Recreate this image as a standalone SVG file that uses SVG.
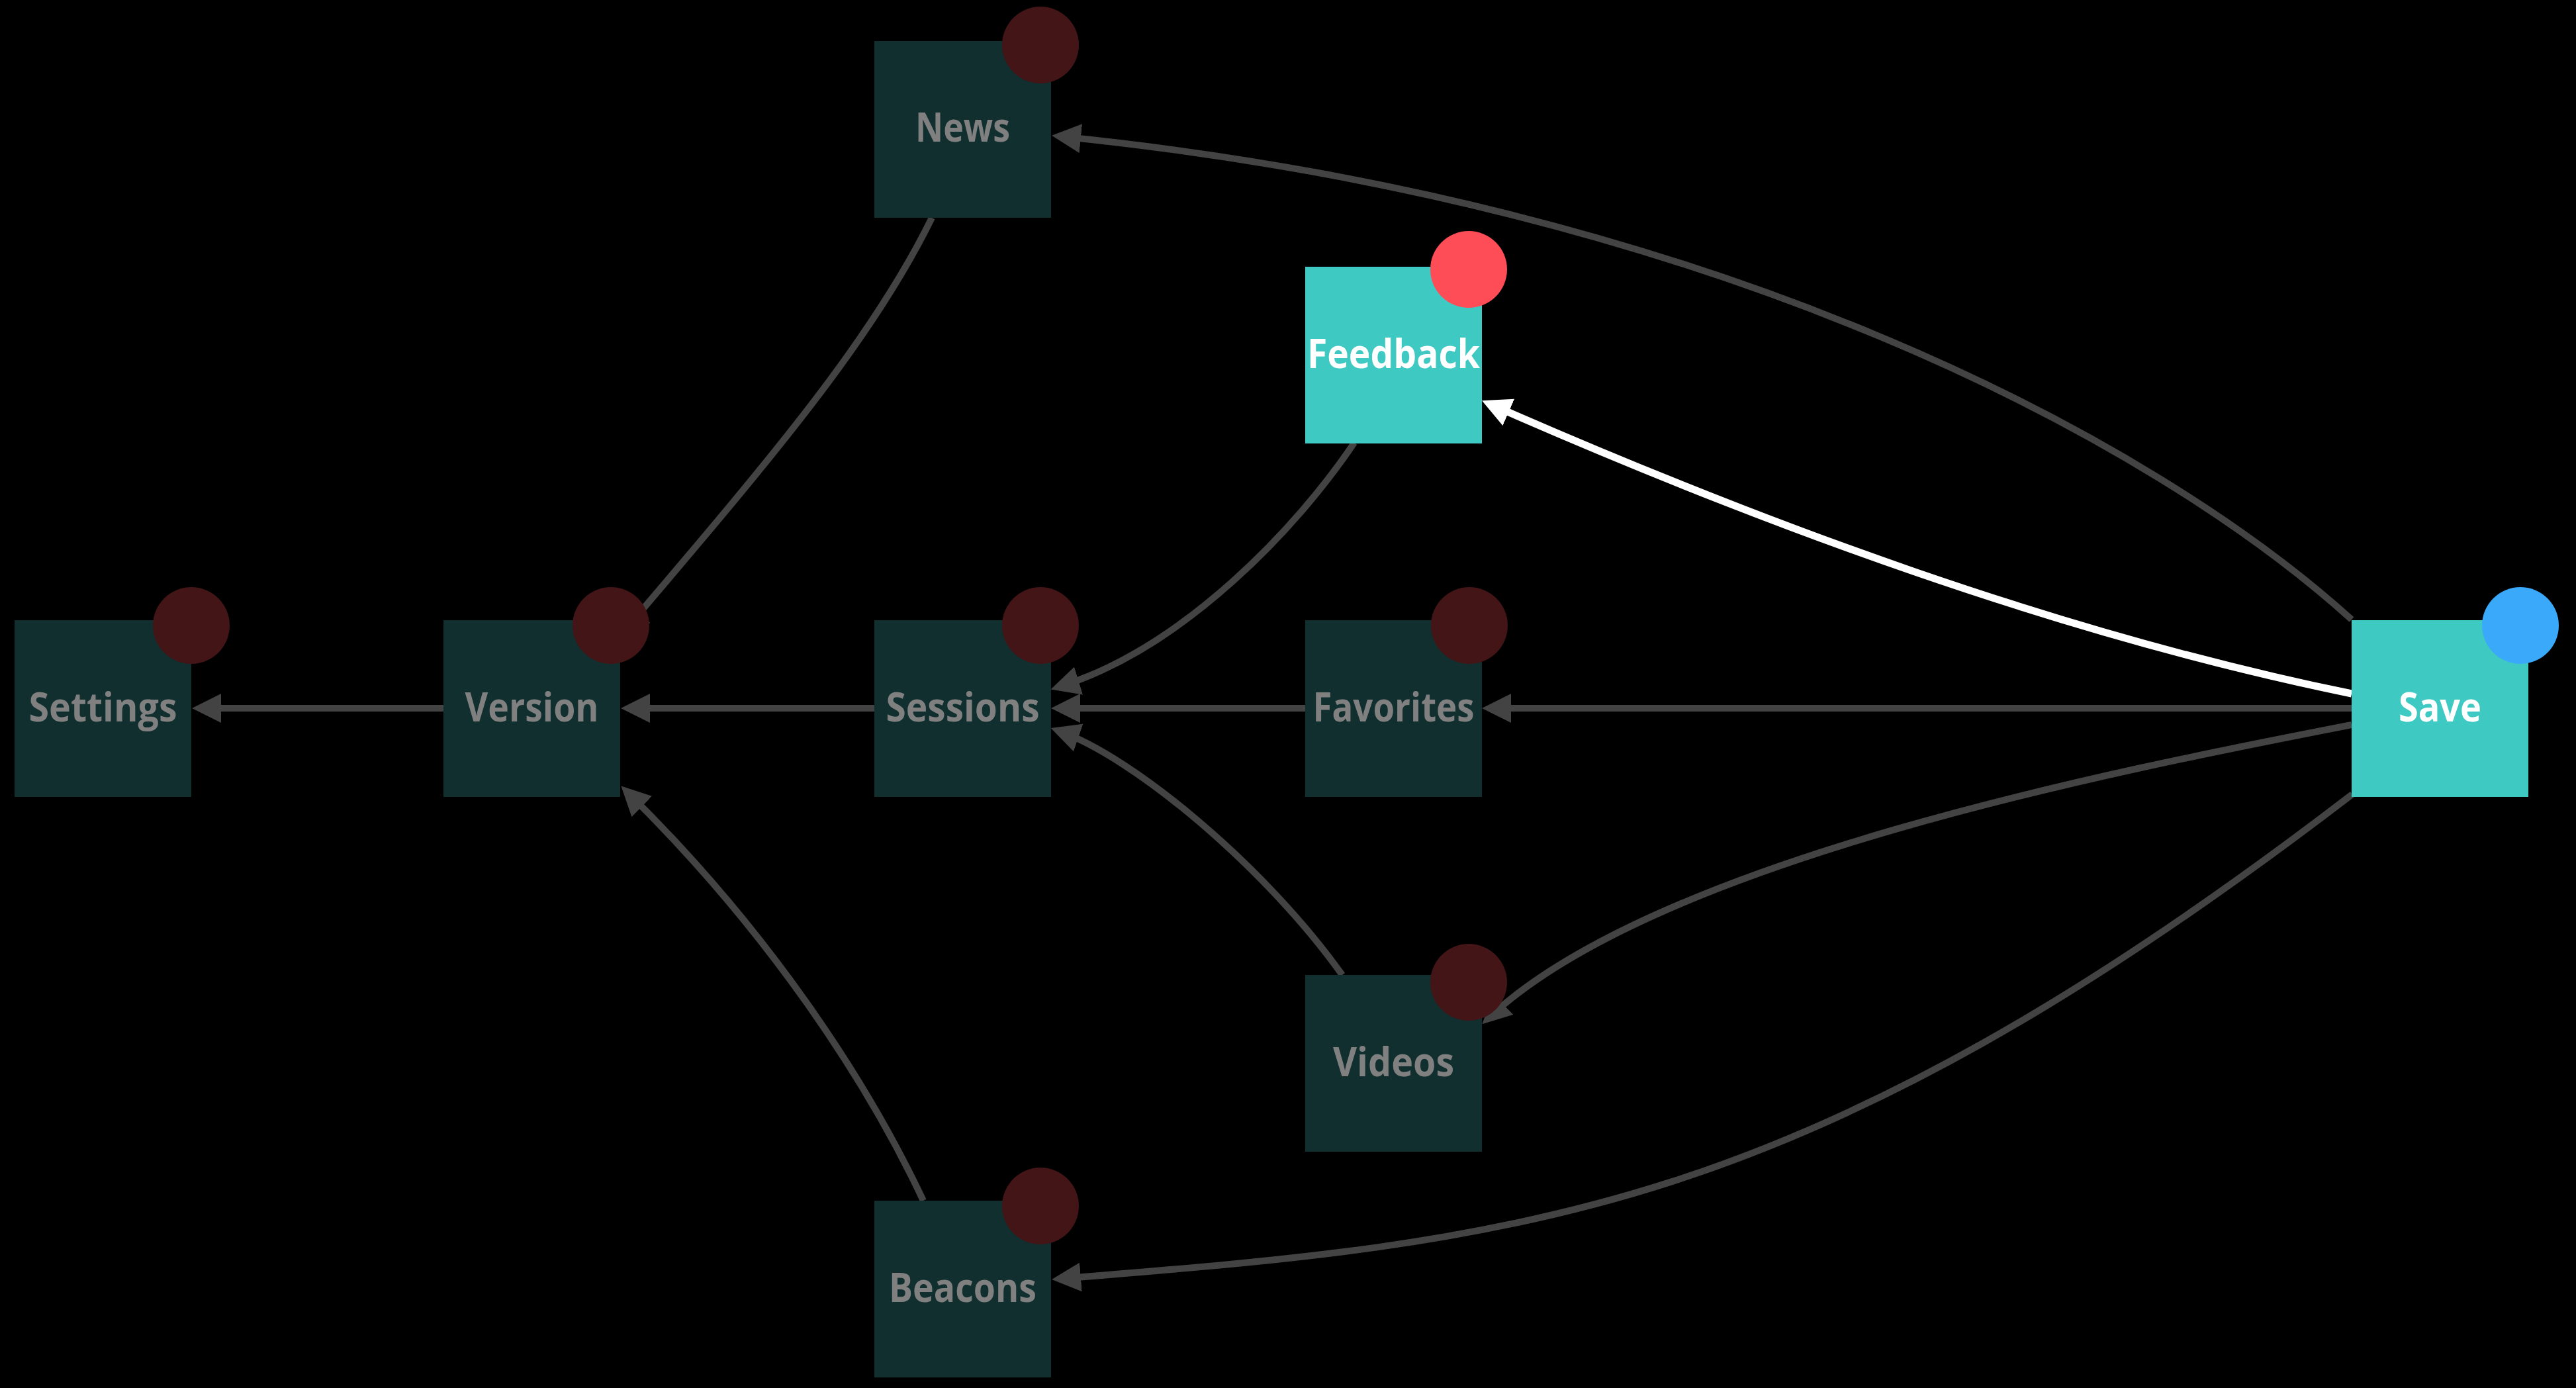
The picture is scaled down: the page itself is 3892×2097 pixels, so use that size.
<svg xmlns="http://www.w3.org/2000/svg" width="3892" height="2097" viewBox="0 0 3892 2097">
<style>
.bg{fill:#000}
.edge{fill:none;stroke:#434343;stroke-width:10}
.edge.active{stroke:#ffffff;stroke-width:11}
.box{fill:#122f2f}
.box.active{fill:#3fc9c3}
.dot{fill:#431517}
.lbl{font-family:"Open Sans","Noto Sans","DejaVu Sans",sans-serif;font-weight:700;font-size:61px;fill:#808080;text-anchor:middle}
.lbl.active{fill:#ffffff}
</style>
<defs>
<marker id="ah" markerUnits="userSpaceOnUse" viewBox="0 0 44 44" markerWidth="44" markerHeight="44" refX="32" refY="22" orient="auto">
<path d="M0,0 L44,22 L0,44 z" fill="#434343"/>
</marker>
<marker id="ahw" markerUnits="userSpaceOnUse" viewBox="0 0 44 44" markerWidth="44" markerHeight="44" refX="32" refY="22" orient="auto">
<path d="M0,0 L44,22 L0,44 z" fill="#ffffff"/>
</marker>
</defs>
<rect class="bg" x="0" y="0" width="3892" height="2097"/>
<g id="connectors">
<path class="edge" marker-end="url(#ah)" d="M3553,936 C3257,668 2596,306 1601,206"/>
<path class="edge active" marker-end="url(#ahw)" d="M3553,1048 C3112,958 2662,791 2250,610"/>
<path class="edge" marker-end="url(#ah)" d="M3553,1070 L2251,1070"/>
<path class="edge" marker-end="url(#ah)" d="M3553,1095 C3209,1162 2502,1299 2248,1539"/>
<path class="edge" marker-end="url(#ah)" d="M3554,1200 C2718,1841 2298,1876 1601,1932"/>
<path class="edge" marker-end="url(#ah)" d="M2046,669 C1963,793 1790,979 1599,1038"/>
<path class="edge" marker-end="url(#ah)" d="M1972,1070 L1600,1070"/>
<path class="edge" marker-end="url(#ah)" d="M2028,1473 C1912,1310 1712,1143 1599,1104"/>
<path class="edge" marker-end="url(#ah)" d="M1321,1070 L950,1070"/>
<path class="edge" marker-end="url(#ah)" d="M1408,329 C1320,509 1172,685 945,951"/>
<path class="edge" marker-end="url(#ah)" d="M1395,1814 C1310,1633 1161,1406 947,1196"/>
<path class="edge" marker-end="url(#ah)" d="M670,1070 L302,1070"/>
</g>
<g id="node-settings">
<rect class="box" x="22" y="937" width="267" height="267"/>
<circle class="dot" cx="289" cy="945" r="58"/>
<text class="lbl" x="155.5" y="1090" textLength="224" lengthAdjust="spacingAndGlyphs">Settings</text>
</g>
<g id="node-version">
<rect class="box" x="670" y="937" width="267" height="267"/>
<circle class="dot" cx="923" cy="945" r="58"/>
<text class="lbl" x="803.5" y="1090" textLength="202" lengthAdjust="spacingAndGlyphs">Version</text>
</g>
<g id="node-news">
<rect class="box" x="1321" y="62" width="267" height="267"/>
<circle class="dot" cx="1572" cy="68" r="58"/>
<text class="lbl" x="1454.5" y="214" textLength="143" lengthAdjust="spacingAndGlyphs">News</text>
</g>
<g id="node-sessions">
<rect class="box" x="1321" y="937" width="267" height="267"/>
<circle class="dot" cx="1572" cy="945" r="58"/>
<text class="lbl" x="1454.5" y="1090" textLength="232" lengthAdjust="spacingAndGlyphs">Sessions</text>
</g>
<g id="node-beacons">
<rect class="box" x="1321" y="1814" width="267" height="267"/>
<circle class="dot" cx="1572" cy="1822" r="58"/>
<text class="lbl" x="1454.5" y="1967" textLength="223" lengthAdjust="spacingAndGlyphs">Beacons</text>
</g>
<g id="node-feedback">
<rect class="box active" x="1972" y="403" width="267" height="267"/>
<circle cx="2219" cy="407" r="58" fill="#ff4d57"/>
<text class="lbl active" x="2105.5" y="556" textLength="261" lengthAdjust="spacingAndGlyphs">Feedback</text>
</g>
<g id="node-favorites">
<rect class="box" x="1972" y="937" width="267" height="267"/>
<circle class="dot" cx="2220" cy="945" r="58"/>
<text class="lbl" x="2105.5" y="1090" textLength="244" lengthAdjust="spacingAndGlyphs">Favorites</text>
</g>
<g id="node-videos">
<rect class="box" x="1972" y="1473" width="267" height="267"/>
<circle class="dot" cx="2219" cy="1484" r="58"/>
<text class="lbl" x="2105.5" y="1626" textLength="183" lengthAdjust="spacingAndGlyphs">Videos</text>
</g>
<g id="node-save">
<rect class="box active" x="3553" y="937" width="267" height="267"/>
<circle cx="3808" cy="945" r="58" fill="#3ba9f9"/>
<text class="lbl active" x="3686.5" y="1090" textLength="125" lengthAdjust="spacingAndGlyphs">Save</text>
</g>
</svg>
